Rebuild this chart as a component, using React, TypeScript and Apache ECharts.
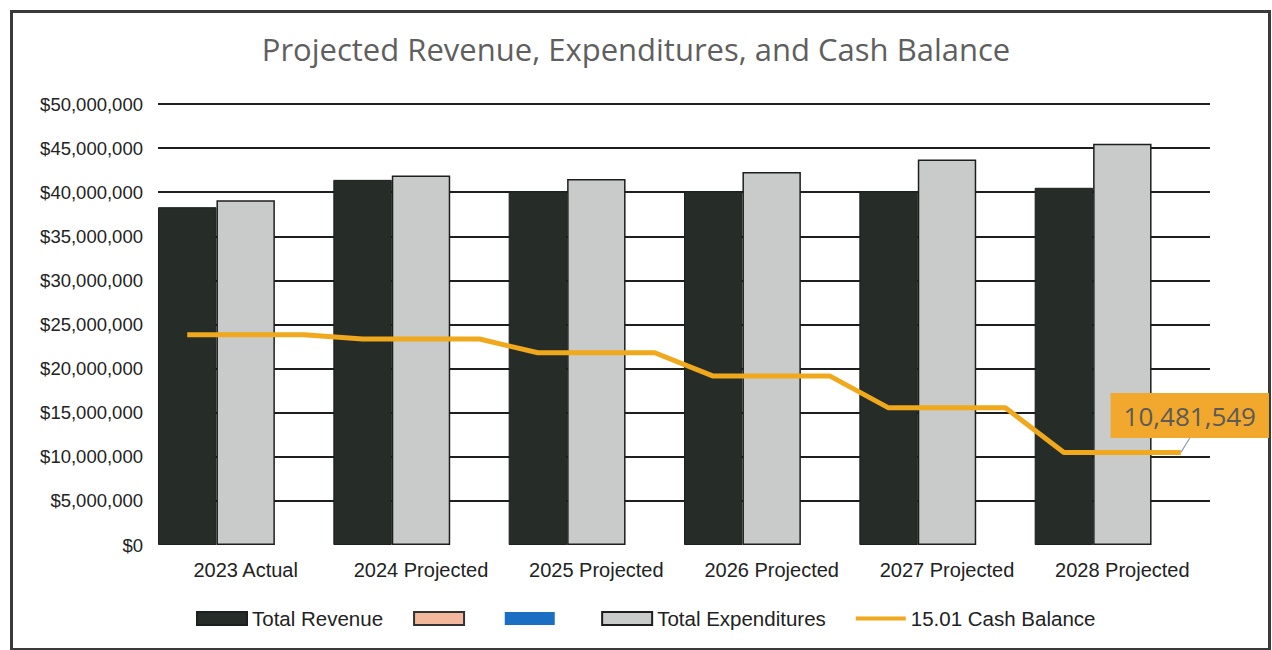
import React, { useEffect, useRef } from "react";
import * as echarts from "echarts";

const categories = [
  "2023 Actual",
  "2024 Projected",
  "2025 Projected",
  "2026 Projected",
  "2027 Projected",
  "2028 Projected",
];
const totalRevenue = [38300000, 41400000, 40100000, 40100000, 40100000, 40500000];
const totalExpenditures = [39100000, 41900000, 41500000, 42300000, 43700000, 45500000];
const cashBalance = [23850000, 23350000, 21800000, 19150000, 15550000, 10481549];
const yTicks = { min: 0, max: 50000000, interval: 5000000 };

const legendNames = ["Total Revenue", " ", "  ", "Total Expenditures", "15.01 Cash Balance"];

export default function App() {
  const ref = useRef<HTMLDivElement>(null);

  useEffect(() => {
    if (!ref.current) return;
    const chart = echarts.init(ref.current, null, { renderer: "svg" });

    // hidden slot axis: three bar slots per category
    const slots = categories.flatMap((c) => [c + "|a", c + "|b", c + "|c"]);
    const cashData: any[] = cashBalance.flatMap((v) => [v, null, v]);
    const last = cashData.length - 1;
    cashData[last] = {
      value: cashData[last],
      symbol: "circle",
      symbolSize: 1,
      label: {
        show: true,
        position: "top",
        distance: 14,
        formatter: (p: any) => Number(p.value).toLocaleString("en-US"),
        backgroundColor: "#f2a82c",
        color: "#5a5a5a",
        fontFamily: "Open Sans",
        fontSize: 26,
        padding: [10, 13, 9, 13],
      },
    };

    const axisFont = "Liberation Sans";

    chart.setOption({
      animation: false,
      backgroundColor: "#ffffff",
      title: {
        text: "Projected Revenue, Expenditures, and Cash Balance",
        left: "center",
        top: 28,
        textStyle: {
          fontFamily: "Open Sans",
          fontSize: 31,
          fontWeight: "normal",
          color: "#5f5f5f",
        },
      },
      legend: {
        left: 191,
        top: 603,
        itemWidth: 50,
        itemHeight: 13,
        itemGap: 30,
        textStyle: { fontFamily: axisFont, fontSize: 20.5, color: "#222" },
        data: [
          { name: legendNames[0], icon: "rect" },
          { name: legendNames[1], icon: "rect" },
          { name: legendNames[2], icon: "rect" },
          { name: legendNames[3], icon: "rect" },
          {
            name: legendNames[4],
            icon: "path://M0,0 L50,0 L50,4 L0,4 Z",
            itemStyle: { color: "#f0a81c" },
          },
        ],
      },
      grid: { left: 158, right: 62, top: 104, bottom: 105, containLabel: false },
      xAxis: [
        {
          type: "category",
          data: categories,
          axisLine: { show: false },
          axisTick: { show: false },
          axisLabel: { fontFamily: axisFont, fontSize: 20, color: "#222", margin: 15 },
        },
        {
          type: "category",
          data: slots,
          show: false,
          boundaryGap: true,
        },
      ],
      yAxis: {
        type: "value",
        min: yTicks.min,
        max: yTicks.max,
        interval: yTicks.interval,
        axisLine: { show: false },
        axisTick: { show: false },
        axisLabel: {
          fontFamily: axisFont,
          fontSize: 18.5,
          color: "#222",
          margin: 15,
          formatter: (v: number) => "$" + v.toLocaleString("en-US"),
        },
        splitLine: {
          showMinLine: false,
          lineStyle: { color: "#1e1e1e", width: 2 },
        },
      },
      series: [
        {
          name: legendNames[0],
          type: "bar",
          xAxisIndex: 0,
          data: totalRevenue,
          barGap: "0%",
          barCategoryGap: "0%",
          itemStyle: { color: "#262d29", borderColor: "#1b1f1d", borderWidth: 1 },
        },
        {
          name: legendNames[3],
          type: "bar",
          xAxisIndex: 0,
          data: totalExpenditures,
          barGap: "0%",
          barCategoryGap: "0%",
          itemStyle: { color: "#c9cbcb", borderColor: "#1e1e1e", borderWidth: 1.5 },
        },
        {
          name: legendNames[1],
          type: "bar",
          xAxisIndex: 0,
          stack: "empty",
          data: categories.map(() => null),
          barGap: "0%",
          barCategoryGap: "0%",
          itemStyle: { color: "#f3b89c", borderColor: "#333", borderWidth: 1 },
        },
        {
          name: legendNames[2],
          type: "bar",
          xAxisIndex: 0,
          stack: "empty",
          data: categories.map(() => null),
          barGap: "0%",
          barCategoryGap: "0%",
          itemStyle: { color: "#1b6fc2" },
        },
        {
          name: legendNames[4],
          type: "line",
          xAxisIndex: 1,
          data: cashData,
          connectNulls: true,
          symbol: "none",
          z: 5,
          itemStyle: { color: "#f0a81c" },
          lineStyle: { color: "#f0a81c", width: 5 },
          labelLayout: { dx: 9, dy: 0 },
          labelLine: { show: true, lineStyle: { color: "#8d9bb8", width: 1.2 } },
        },
      ],
      graphic: [
        {
          type: "rect",
          left: 9,
          top: 9,
          shape: { width: 1258, height: 638 },
          style: { fill: "none", stroke: "#3a3a3a", lineWidth: 3 },
          silent: true,
        },
      ],
    });

    return () => chart.dispose();
  }, []);

  return (
    <div
      ref={ref}
      style={{ position: "fixed", left: 0, top: 0, width: 1272, height: 650 }}
    />
  );
}
